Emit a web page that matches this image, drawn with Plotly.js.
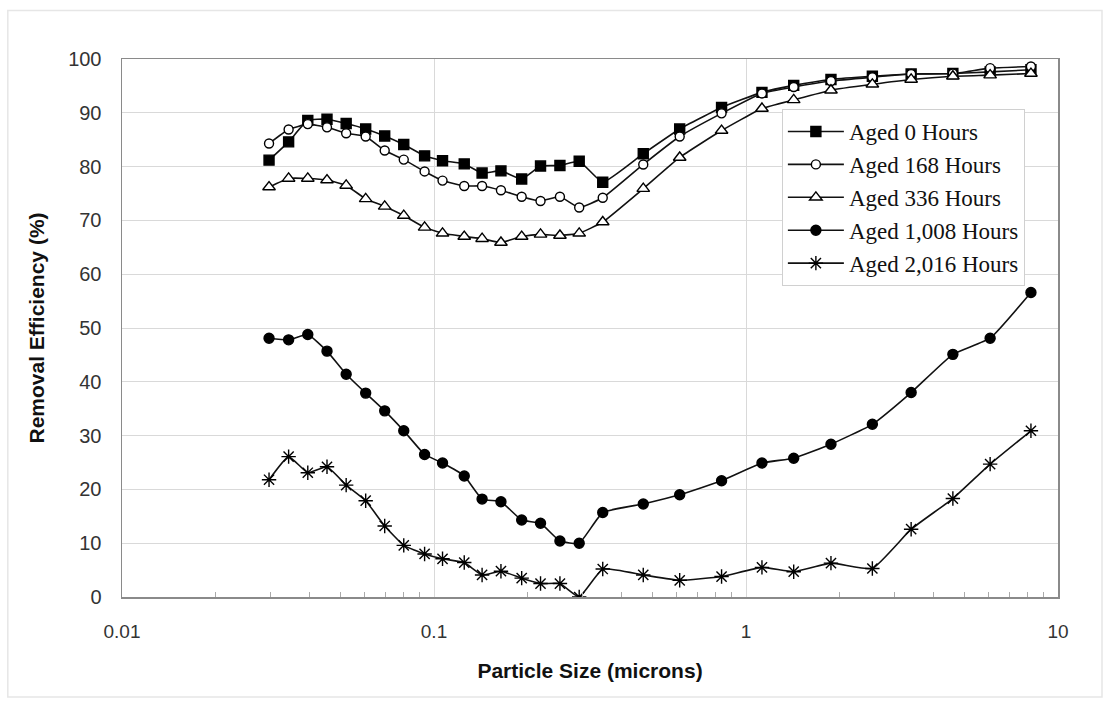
<!DOCTYPE html>
<html>
<head>
<meta charset="utf-8">
<script src="https://cdn.plot.ly/plotly-3.0.1.min.js"></script>
<style>html,body{margin:0;padding:0;background:#fff;}#chart{width:1112px;height:708px;}</style>
</head>
<body>
<div id="chart"></div>
<script>
const particleSize = [0.0296,0.0342,0.0394,0.0454,0.0523,0.0604,0.0695,0.080,0.0933,0.1065,0.125,0.1426,0.1639,0.191,0.2195,0.2533,0.292,0.3474,0.4685,0.613,0.835,1.125,1.422,1.872,2.541,3.383,4.603,6.06,8.19];

const aged0 = [81.2,84.6,88.6,88.8,88.0,87.0,85.7,84.1,82.0,81.1,80.5,78.8,79.2,77.7,80.1,80.2,81.0,77.1,82.4,87.0,91.0,93.8,95.1,96.2,96.8,97.2,97.3,97.6,98.0];
const aged168 = [84.3,86.9,87.9,87.3,86.2,85.6,83.0,81.3,79.1,77.4,76.4,76.4,75.6,74.4,73.6,74.4,72.4,74.2,80.4,85.6,89.9,93.6,94.8,95.9,96.6,97.2,97.3,98.3,98.6];
const aged336 = [76.2,77.8,77.8,77.5,76.5,74.0,72.6,70.9,68.7,67.6,67.0,66.6,65.9,67.0,67.4,67.2,67.6,69.7,75.9,81.7,86.7,90.8,92.4,94.2,95.3,96.2,96.8,97.0,97.3];
const aged1008 = [48.1,47.8,48.8,45.7,41.4,37.9,34.6,30.9,26.5,24.9,22.5,18.2,17.7,14.3,13.7,10.4,10.0,15.7,17.3,19.0,21.6,24.9,25.8,28.4,32.1,38.0,45.1,48.1,56.6];
const aged2016 = [21.8,26.1,23.1,24.2,20.8,17.9,13.2,9.6,8.0,7.1,6.4,4.1,4.8,3.5,2.5,2.5,0.0,5.2,4.1,3.1,3.8,5.5,4.7,6.3,5.3,12.6,18.3,24.7,30.9];

const seriesNames = ["Aged 0 Hours","Aged 168 Hours","Aged 336 Hours","Aged 1,008 Hours","Aged 2,016 Hours"];
const xTickVals = [0.01,0.1,1,10];
const xTickText = ["0.01","0.1","1","10"];
const xMinorVals = [0.02,0.03,0.04,0.05,0.06,0.07,0.08,0.09,0.2,0.3,0.4,0.5,0.6,0.7,0.8,0.9,2,3,4,5,6,7,8,9];
const yTickVals = [0,10,20,30,40,50,60,70,80,90,100];

const styles = [
  {symbol:"square", size:10, color:"#000", lineColor:"#000"},
  {symbol:"circle", size:9, color:"#fff", lineColor:"#000"},
  {symbol:"triangle-up", size:11, color:"#fff", lineColor:"#000"},
  {symbol:"circle", size:10, color:"#000", lineColor:"#000"},
  {symbol:"asterisk-open", size:12, color:"#000", lineColor:"#000"}
];
const ys = [aged0, aged168, aged336, aged1008, aged2016];

const traces = ys.map((y,i)=>({
  x: particleSize, y: y, name: seriesNames[i], type:"scatter", mode:"lines+markers",
  line:{color:"#111", width:1.6, shape:"spline", smoothing:0.4},
  marker:{symbol:styles[i].symbol, size:styles[i].size, color:styles[i].color,
          line:{color:styles[i].lineColor, width:1.4}}
}));

const layout = {
  width:1112, height:708,
  margin:{l:122, r:54, t:59, b:111},
  paper_bgcolor:"#fff", plot_bgcolor:"#fff",
  showlegend:true,
  legend:{x:0.705, y:0.907, xanchor:"left", yanchor:"top",
    font:{family:"Liberation Serif, Times New Roman, serif", size:23, color:"#111"},
    bgcolor:"#fff", bordercolor:"#d0d0d0", borderwidth:1, tracegroupgap:0,
    itemwidth:56},
  xaxis:{type:"log", range:[-2,1], tickvals:xTickVals, ticktext:xTickText,
    showgrid:true, gridcolor:"#d9d9d9", gridwidth:1,
    showline:true, linecolor:"#8a8a8a", linewidth:1.5, mirror:true,
    ticks:"", zeroline:false, ticklabelstandoff:17,
    minor:{tickvals:xMinorVals, ticks:"inside", ticklen:5, tickcolor:"#aaa", showgrid:false},
    tickfont:{family:"Liberation Sans, Arial, sans-serif", size:19, color:"#333"},
    title:{text:"Particle Size (microns)", standoff:22,
      font:{family:"Liberation Sans, Arial, sans-serif", size:21, color:"#111", weight:"bold"}}},
  yaxis:{range:[0,100], tickvals:yTickVals,
    showgrid:true, gridcolor:"#d9d9d9", gridwidth:1,
    showline:true, linecolor:"#8a8a8a", linewidth:1.5, mirror:true,
    ticks:"", zeroline:false, ticklabelstandoff:15,
    tickfont:{family:"Liberation Sans, Arial, sans-serif", size:20, color:"#333"},
    title:{text:"Removal Efficiency (%)", standoff:18,
      font:{family:"Liberation Sans, Arial, sans-serif", size:21, color:"#111", weight:"bold"}}},
  shapes:[{type:"rect", xref:"paper", yref:"paper", x0:-0.122, x1:1.047, y0:-0.186, y1:1.09,
    line:{color:"#e6e6e6", width:1.5}, fillcolor:"rgba(0,0,0,0)", layer:"below"}]
};

Plotly.newPlot("chart", traces, layout, {displayModeBar:false, staticPlot:true});
</script>
</body>
</html>
